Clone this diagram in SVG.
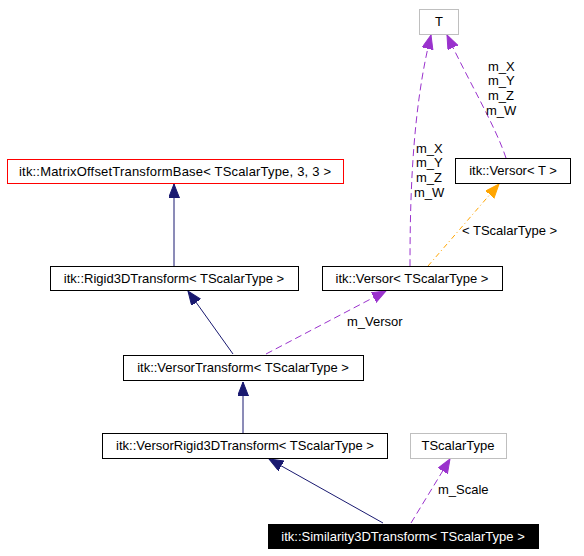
<svg xmlns="http://www.w3.org/2000/svg" width="584" height="556" viewBox="0 0 584 556">
<style>
  text { font-family: "Liberation Sans", Arial, sans-serif; font-size: 13px; fill: #000; }
  .box { fill: #fff; stroke: #000; stroke-width: 1; }
  .gray { fill: #fff; stroke: #bfbfbf; stroke-width: 1; }
  .blk { fill: #000; stroke: #000; stroke-width: 1; }
  .inh { fill: none; stroke: #191970; stroke-width: 1; }
  .use { fill: none; stroke: #9a32cd; stroke-width: 1; stroke-dasharray: 7,4; }
  .tpl { fill: none; stroke: #ffa500; stroke-width: 1; stroke-dasharray: 5,3,1,3; }
</style>
<defs>
  <marker id="aInh" markerUnits="userSpaceOnUse" markerWidth="16" markerHeight="12" refX="14" refY="5.5" orient="auto">
    <path d="M0,0 L14,5.5 L0,11 z" fill="#191970" stroke="#191970"/>
  </marker>
  <marker id="aUse" markerUnits="userSpaceOnUse" markerWidth="16" markerHeight="12" refX="14" refY="5.5" orient="auto">
    <path d="M0,0 L14,5.5 L0,11 z" fill="#9a32cd" stroke="#9a32cd"/>
  </marker>
  <marker id="aTpl" markerUnits="userSpaceOnUse" markerWidth="16" markerHeight="12" refX="14" refY="5.5" orient="auto">
    <path d="M0,0 L14,5.5 L0,11 z" fill="#ffa500" stroke="#ffa500"/>
  </marker>
</defs>
<rect width="584" height="556" fill="#fff"/>
<g id="connectors">
  <path class="inh" d="M174,266 L174,184" marker-end="url(#aInh)"/>
  <path class="inh" d="M233,354 L188,291" marker-end="url(#aInh)"/>
  <path class="inh" d="M243,433 L243,382" marker-end="url(#aInh)"/>
  <path class="inh" d="M383,523 L269,459" marker-end="url(#aInh)"/>
  <path class="use" d="M266,354 L386,291" marker-end="url(#aUse)"/>
  <text x="347" y="326">m_Versor</text>
  <path class="use" d="M411,523 L450,459" marker-end="url(#aUse)"/>
  <text x="438" y="494">m_Scale</text>
  <path class="use" d="M410,266 C410,200 412,110 431,35" marker-end="url(#aUse)"/>
  <text x="416" y="153">m_X</text>
  <text x="416" y="167">m_Y</text>
  <text x="416" y="182">m_Z</text>
  <text x="414" y="197">m_W</text>
  <path class="use" d="M506,158 C495,125 468,80 447,35" marker-end="url(#aUse)"/>
  <text x="488" y="71">m_X</text>
  <text x="488" y="85">m_Y</text>
  <text x="488" y="100">m_Z</text>
  <text x="486" y="115">m_W</text>
  <path class="tpl" d="M428,266 L499,184" marker-end="url(#aTpl)"/>
  <text x="462" y="235">&lt; TScalarType &gt;</text>
</g>
<g id="node-T">
  <rect class="gray" x="419.5" y="9.5" width="39" height="25"/>
  <text x="439" y="26" text-anchor="middle">T</text>
</g>
<g id="node-VersorT">
  <rect class="box" x="455.5" y="158.5" width="115" height="25"/>
  <text x="513" y="175" text-anchor="middle">itk::Versor&lt; T &gt;</text>
</g>
<g id="node-MatrixOffset">
  <rect x="7.5" y="159.5" width="336" height="24" fill="#ffffff" stroke="#ff0000" stroke-width="1"/>
  <text x="175" y="176" text-anchor="middle" textLength="312">itk::MatrixOffsetTransformBase&lt; TScalarType, 3, 3 &gt;</text>
</g>
<g id="node-Rigid3D">
  <rect class="box" x="50.5" y="266.5" width="248" height="24"/>
  <text x="174" y="283" text-anchor="middle">itk::Rigid3DTransform&lt; TScalarType &gt;</text>
</g>
<g id="node-VersorTS">
  <rect class="box" x="322.5" y="266.5" width="180" height="24"/>
  <text x="412" y="283" text-anchor="middle">itk::Versor&lt; TScalarType &gt;</text>
</g>
<g id="node-VersorTransform">
  <rect class="box" x="123.5" y="355.5" width="240" height="25"/>
  <text x="243" y="372" text-anchor="middle">itk::VersorTransform&lt; TScalarType &gt;</text>
</g>
<g id="node-VersorRigid3D">
  <rect class="box" x="102.5" y="433.5" width="285" height="25"/>
  <text x="245" y="450" text-anchor="middle">itk::VersorRigid3DTransform&lt; TScalarType &gt;</text>
</g>
<g id="node-TScalarType">
  <rect class="gray" x="410.5" y="433.5" width="96" height="25"/>
  <text x="458" y="450" text-anchor="middle">TScalarType</text>
</g>
<g id="node-Similarity3D">
  <rect class="blk" x="268.5" y="524.5" width="270" height="24"/>
  <text x="403" y="541" text-anchor="middle" style="fill:#fff">itk::Similarity3DTransform&lt; TScalarType &gt;</text>
</g>
</svg>
